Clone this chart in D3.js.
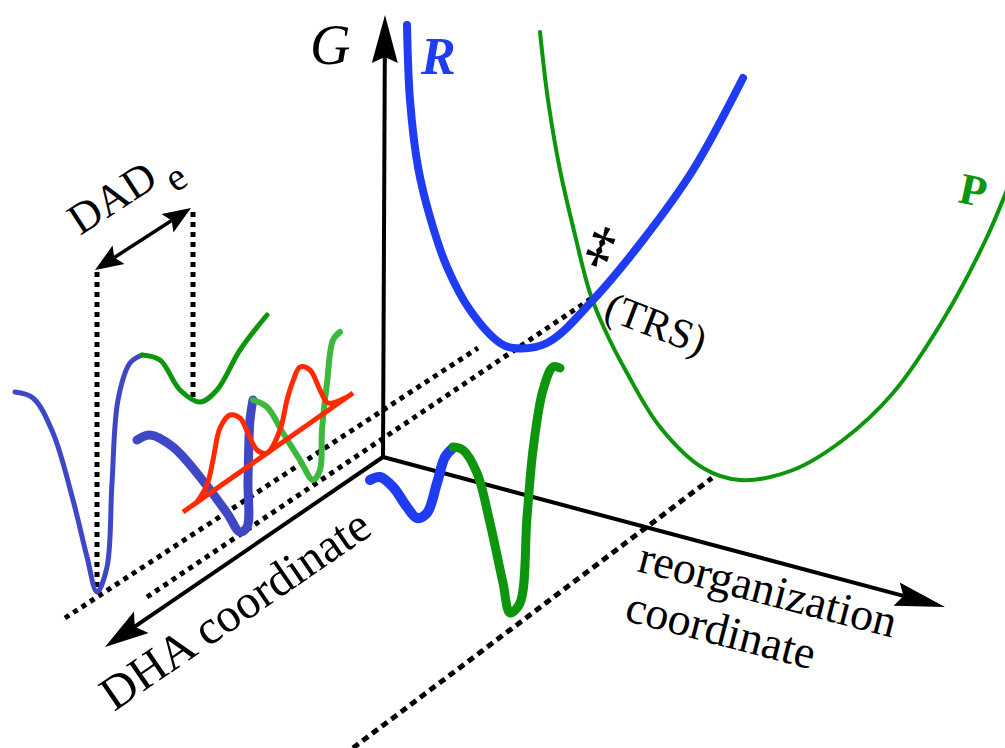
<!DOCTYPE html>
<html>
<head>
<meta charset="utf-8">
<script src="https://cdn.jsdelivr.net/npm/d3@7"></script>
<style>
  body { margin: 0; background: #fff; }
  svg { display: block; }
</style>
</head>
<body>
<svg id="chart" width="1005" height="748"></svg>
<script>
// values, in the drawing's own units
const origin = [383, 457];
const axisTips = [[385, 15], [945, 607], [105, 647]]; // G, reorganization, DHA

// free-energy surfaces along the reorganization coordinate
const reactantCurve = [[407, 25], [410, 100], [418, 167], [430, 217], [447, 267], [470, 310], [500, 343], [513, 348], [547, 343], [593, 300], [643, 240], [693, 170], [743, 78]];
const productCurve = [[540, 32], [548, 100], [560, 170], [575, 235], [590, 293], [605, 330], [627, 373], [660, 427], [703, 468], [740, 480], [793, 470], [843, 440], [893, 393], [943, 320], [987, 237], [1010, 182]];

// proton potentials along the DHA coordinate
const wellReactantBack = [[15, 392], [33, 398], [53, 433], [73, 500], [87, 557], [97, 592], [107, 567], [112, 483], [118, 400], [130, 363], [142, 355]];
const wellProductBack = [[142, 355], [160, 360], [180, 390], [200, 402], [217, 390], [240, 350], [267, 315]];
const wellReactantTRS = [[137, 440], [150, 435], [173, 447], [200, 477], [227, 513], [240, 532], [247, 527], [248, 480], [250, 420], [253, 400]];
const wellProductTRS = [[253, 400], [267, 407], [283, 433], [300, 460], [313, 480], [320, 470], [322, 430], [327, 383], [333, 340], [340, 332]];
const wellReactantFront = [[370, 480], [380, 477], [393, 487], [407, 507], [417, 518], [427, 513], [437, 483], [445, 457], [453, 448]];
const wellProductFront = [[453, 447], [463, 450], [477, 473], [490, 523], [503, 583], [510, 613], [520, 603], [527, 517], [533, 450], [543, 390], [553, 367], [560, 368]];

// vibrational wavefunction at the TRS
const waveBaseline = [[183, 512], [353, 393]];
const waveFunction = [[197, 502], [207, 485], [213, 460], [220, 428], [230, 415], [240, 418], [248, 433], [257, 450], [267, 453], [280, 430], [287, 400], [293, 381], [300, 367], [310, 370], [320, 390], [328, 403], [345, 398]];

// projection guides
const guideDots = [[[65, 618], [478, 348]], [[147, 597], [592, 298]], [[97, 272], [97, 590]], [[193, 212], [193, 398]]];
const guideDashes = [[[353, 748], [712, 478]]];
const dadArrow = [[95, 270], [191, 208]];

const W = 1005, H = 748;
const x = d3.scaleLinear().domain([0, 1005]).range([0, W]);
const y = d3.scaleLinear().domain([0, 748]).range([0, H]);

const brightBlue = '#1f3cf2';
const slateBlue = '#3e48c6';
const darkGreen = '#0d960d';
const lightGreen = '#3cb83c';
const red = '#ff2a00';
const serif = '"Liberation Serif", "Times New Roman", Times, "Nimbus Roman", serif';

const svg = d3.select('#chart');
const smooth = d3.line().x(d => x(d[0])).y(d => y(d[1])).curve(d3.curveCatmullRom.alpha(0.5));
const straight = d3.line().x(d => x(d[0])).y(d => y(d[1]));

// dotted guides
svg.append('g')
	.selectAll('path')
	.data(guideDots)
	.join('path')
	.attr('d', straight)
	.attr('fill', 'none')
	.attr('stroke', '#000')
	.attr('stroke-width', 5)
	.attr('stroke-dasharray', '5,5');

svg.append('g')
	.selectAll('path')
	.data(guideDashes)
	.join('path')
	.attr('d', straight)
	.attr('fill', 'none')
	.attr('stroke', '#000')
	.attr('stroke-width', 5)
	.attr('stroke-dasharray', '7,5');

// arrow helper: shaft + notched head
function arrowHead(from, tip, len, half, notch) {
	const dx = tip[0] - from[0], dy = tip[1] - from[1];
	const n = Math.hypot(dx, dy);
	const ux = dx / n, uy = dy / n, px = -uy, py = ux;
	const bx = tip[0] - ux * len, by = tip[1] - uy * len;
	return {
		head: [tip, [bx + px * half, by + py * half], [tip[0] - ux * (len - notch), tip[1] - uy * (len - notch)], [bx - px * half, by - py * half]],
		neck: [tip[0] - ux * (len - notch), tip[1] - uy * (len - notch)]
	};
}

const axes = svg.append('g');
const headSpecs = [
	{ len: 48, half: 13, notch: 6 },
	{ len: 50, half: 12, notch: 7 },
	{ len: 44, half: 13, notch: 8 }
];
axisTips.forEach((tip, i) => {
	const s = headSpecs[i];
	const a = arrowHead(origin, tip, s.len, s.half, s.notch);
	axes.append('path')
		.attr('d', straight([origin, a.neck]))
		.attr('stroke', '#000')
		.attr('stroke-width', 4)
		.attr('fill', 'none');
	axes.append('path')
		.attr('d', straight(a.head) + 'Z')
		.attr('fill', '#000');
});

// DAD_e double arrow
{
	const [p0, p1] = dadArrow;
	const a1 = arrowHead(p0, p1, 28, 11, 5);
	const a0 = arrowHead(p1, p0, 28, 11, 5);
	axes.append('path').attr('d', straight([a0.neck, a1.neck])).attr('stroke', '#000').attr('stroke-width', 3.5);
	axes.append('path').attr('d', straight(a1.head) + 'Z').attr('fill', '#000');
	axes.append('path').attr('d', straight(a0.head) + 'Z').attr('fill', '#000');
}

// curves
const curves = [
	{ pts: productCurve, color: darkGreen, width: 4 },
	{ pts: reactantCurve, color: brightBlue, width: 8 },
	{ pts: wellReactantBack, color: slateBlue, width: 5 },
	{ pts: wellProductBack, color: darkGreen, width: 5 },
	{ pts: wellReactantTRS, color: slateBlue, width: 9 },
	{ pts: wellProductTRS, color: lightGreen, width: 6 },
	{ pts: wellReactantFront, color: brightBlue, width: 10 },
	{ pts: wellProductFront, color: darkGreen, width: 9 },
	{ pts: waveFunction, color: red, width: 5 }
];

svg.append('g')
	.selectAll('path')
	.data(curves)
	.join('path')
	.attr('d', d => smooth(d.pts))
	.attr('fill', 'none')
	.attr('stroke', d => d.color)
	.attr('stroke-width', d => d.width)
	.attr('stroke-linecap', 'round')
	.attr('stroke-linejoin', 'round');

svg.append('path')
	.attr('d', straight(waveBaseline))
	.attr('stroke', red)
	.attr('stroke-width', 5);

// labels
const labels = svg.append('g').attr('font-family', serif).attr('fill', '#000');
labels.append('text').attr('x', 310).attr('y', 64).attr('font-size', 56).attr('font-style', 'italic').text('G');
labels.append('text').attr('x', 421).attr('y', 74).attr('font-size', 52).attr('font-style', 'italic').attr('font-weight', 'bold').attr('fill', brightBlue).text('R');
labels.append('text').attr('transform', 'translate(957,202) rotate(12)').attr('font-size', 44).attr('font-weight', 'bold').attr('fill', darkGreen).text('P');
labels.append('text').attr('transform', 'translate(584,256) rotate(20)').attr('font-size', 50).attr('font-weight', 'bold').text('‡');
labels.append('text').attr('transform', 'translate(602,318) rotate(21)').attr('font-size', 42).text('(TRS)');

const dad = labels.append('text').attr('transform', 'translate(80,236) rotate(-33)').attr('font-size', 44);
dad.append('tspan').text('DAD');
dad.append('tspan').attr('dx', 8).attr('dy', 16).attr('font-size', 40).text('e');

labels.append('text').attr('transform', 'translate(114,712) rotate(-34.5)').attr('font-size', 48).text('DHA coordinate');

const reorg = labels.append('text').attr('transform', 'translate(636,571) rotate(14.6)').attr('font-size', 46);
reorg.append('tspan').attr('x', 0).attr('y', 0).text('reorganization');
reorg.append('tspan').attr('x', 0).attr('y', 51).text('coordinate');
</script>
</body>
</html>
